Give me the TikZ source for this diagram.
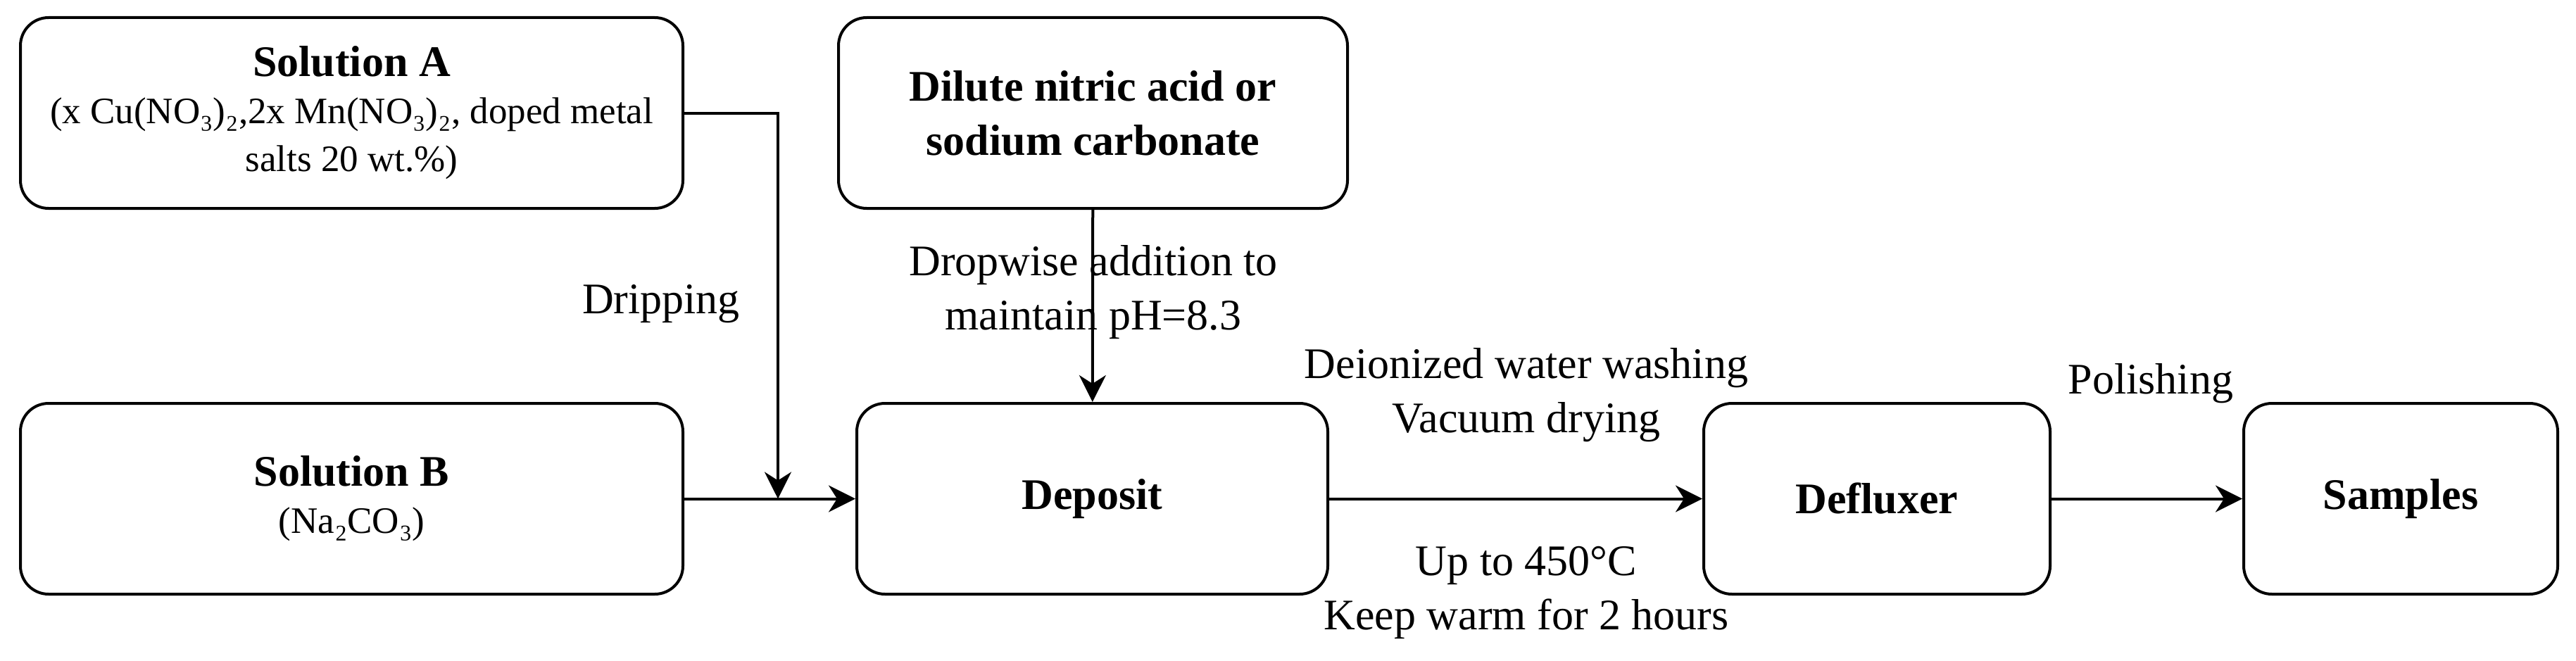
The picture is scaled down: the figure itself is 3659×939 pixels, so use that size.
\documentclass[tikz,border=0pt]{standalone}
\usepackage{fontspec}
\setmainfont{Liberation Serif}
\usetikzlibrary{arrows.meta}
\newcommand{\subfont}{\fontsize{53}{58}\selectfont}
\begin{document}
\begin{tikzpicture}[x=1pt,y=-1pt,
  box/.style={draw, line width=4pt, rounded corners=40pt, minimum height=271pt, inner sep=0pt, align=center, font=\fontsize{62}{77}\selectfont},
  lbl/.style={align=center, inner sep=0pt, font=\fontsize{62}{77}\selectfont},
  arr/.style={line width=4pt, -{Stealth[length=38pt,width=38pt,inset=12pt]}},
]
\useasboundingbox (0,0) rectangle (3659,939);

\node[box, minimum width=941pt] (A) at (499.5,160.5) {\textbf{Solution A}\\[-10pt]\subfont (x Cu(NO₃)₂,2x Mn(NO₃)₂, doped metal\\[-9pt]\subfont salts 20 wt.\%)};
\node[box, minimum width=723pt] (dil) at (1552.5,160.5) {\textbf{Dilute nitric acid or}\\\textbf{sodium carbonate}};
\node[box, minimum width=941pt] (B) at (499.5,708.5) {\textbf{Solution B}\\[-10pt]\subfont (Na₂CO₃)};
\node[box, minimum width=669pt] (dep) at (1551.5,708.5) {\textbf{Deposit}};
\node[box, minimum width=492pt] (def) at (2666,708.5) {\textbf{Defluxer}};
\node[box, minimum width=446pt] (sam) at (3410,708.5) {\textbf{Samples}};

\coordinate (j) at (1105,708.5);

\draw[arr] (B) -- (dep);
\draw[arr] (A.east) -| (j);
\draw[arr] (dil) -- (dep);
\draw[arr] (dep) -- (def);
\draw[arr] (def) -- (sam);

\node[lbl] (l1) at (939,432) {Dripping};
\node[lbl] (l2) at (1553,415.5) {Dropwise addition to\\maintain pH=8.3};
\node[lbl] (l3) at (2168,561.5) {Deionized water washing\\Vacuum drying};
\node[lbl] (l4) at (2168,841.5) {Up to 450°C\\Keep warm for 2 hours};
\node[lbl] (l5) at (3055,545) {Polishing};
\end{tikzpicture}
\end{document}
